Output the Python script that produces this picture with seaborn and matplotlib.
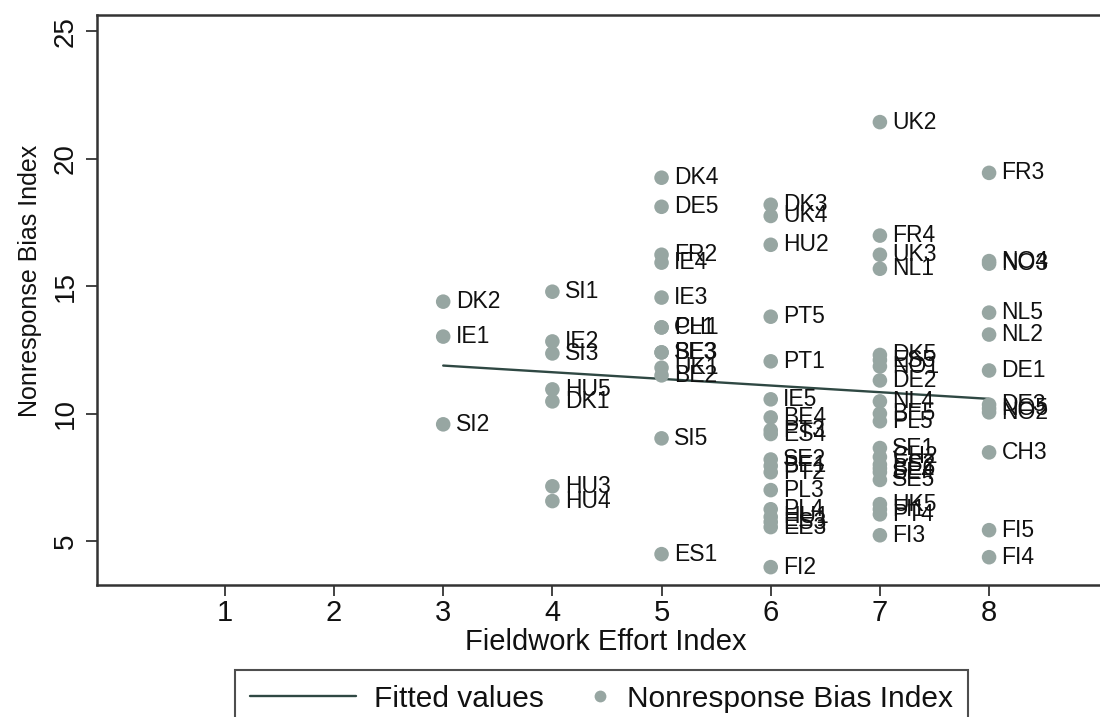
import matplotlib
matplotlib.use("Agg")
import matplotlib.pyplot as plt
from matplotlib.lines import Line2D
from matplotlib.legend_handler import HandlerLine2D
import seaborn as sns
import pandas as pd

# Survey round codes, fieldwork effort index and nonresponse bias index
codes = [
    "DK2", "IE1", "SI2",
    "SI1", "IE2", "SI3", "HU5", "DK1", "HU3", "HU4",
    "DK4", "DE5", "FR2", "IE4", "IE3", "CH1", "PL1", "BE3", "SE3", "UK1", "BE2", "SI5", "ES1",
    "DK3", "UK4", "HU2", "PT5", "PT1", "IE5", "BE4", "PT3", "ES4", "SE2", "BE1", "PT2", "PL3",
    "PL4", "HU1", "ES3", "EE3", "FI2",
    "UK2", "FR4", "UK3", "NL1", "DK5", "ES5", "NO1", "DE2", "NL4", "BE5", "PL5", "SE1", "CH2",
    "ES2", "BE6", "SE4", "SE5", "UK5", "FI1", "PT4", "FI3",
    "FR3", "NO4", "NO3", "NL5", "NL2", "DE1", "DE3", "NO5", "NO2", "CH3", "FI5", "FI4",
]
effort = [
    3, 3, 3,
    4, 4, 4, 4, 4, 4, 4,
    5, 5, 5, 5, 5, 5, 5, 5, 5, 5, 5, 5, 5,
    6, 6, 6, 6, 6, 6, 6, 6, 6, 6, 6, 6, 6,
    6, 6, 6, 6, 6,
    7, 7, 7, 7, 7, 7, 7, 7, 7, 7, 7, 7, 7,
    7, 7, 7, 7, 7, 7, 7, 7,
    8, 8, 8, 8, 8, 8, 8, 8, 8, 8, 8, 8,
]
bias = [
    14.39, 13.02, 9.58,
    14.78, 12.83, 12.36, 10.95, 10.48, 7.15, 6.57,
    19.25, 18.11, 16.23, 15.92, 14.55, 13.38, 13.38, 12.40, 12.40, 11.80, 11.50, 9.03, 4.49,
    18.19, 17.75, 16.62, 13.80, 12.05, 10.56, 9.85, 9.35, 9.20, 8.20, 7.95, 7.70, 7.00,
    6.25, 5.95, 5.75, 5.55, 3.98,
    21.43, 16.98, 16.23, 15.68, 12.30, 12.10, 11.85, 11.30, 10.48, 10.00, 9.70, 8.65, 8.30,
    8.00, 7.85, 7.70, 7.40, 6.45, 6.25, 6.05, 5.23,
    19.44, 15.98, 15.88, 13.96, 13.10, 11.69, 10.35, 10.20, 10.05, 8.48, 5.43, 4.37,
]
x_ticks = [1, 2, 3, 4, 5, 6, 7, 8]
y_ticks = [5, 10, 15, 20, 25]

df = pd.DataFrame({"code": codes, "effort": effort, "bias": bias})

sns.set_theme(style="white")
plt.rcParams["font.family"] = ["Liberation Sans", "DejaVu Sans"]

point_color = "#97a6a2"
line_color = "#2f4843"
text_color = "#111111"

fig = plt.figure(figsize=(11, 7.17), dpi=100)
ax = fig.add_axes([97 / 1100, 1 - 585 / 717, 1 - 97 / 1100, (585 - 15) / 717])

sns.regplot(data=df, x="effort", y="bias", scatter=False, ci=None, ax=ax,
            line_kws={"color": line_color, "linewidth": 1.7, "zorder": 2})
sns.scatterplot(data=df, x="effort", y="bias", ax=ax, s=110, color=point_color,
                edgecolor="none", linewidth=0, zorder=3, legend=False)

for c, xv, yv in zip(df["code"], df["effort"], df["bias"]):
    ax.annotate(c, (xv, yv), xytext=(9, 0), textcoords="offset points",
                ha="left", va="center", fontsize=16.5, color=text_color, zorder=4)

ax.set_xlim(-0.171, 9.016)
ax.set_ylim(3.28, 25.63)
ax.set_xticks(x_ticks)
ax.set_yticks(y_ticks)
ax.set_xticklabels([str(t) for t in x_ticks], fontsize=21)
ax.set_yticklabels([str(t) for t in y_ticks], fontsize=20, rotation=90, va="center")
ax.tick_params(axis="both", direction="out", length=8, width=1.2, color="#222222",
               left=True, bottom=True, labelcolor=text_color)
ax.tick_params(axis="x", pad=2)
ax.tick_params(axis="y", pad=5)
ax.set_xlabel("Fieldwork Effort Index", fontsize=21, color=text_color)
ax.set_ylabel("Nonresponse Bias Index", fontsize=18, color=text_color)
ax.xaxis.set_label_coords((606 - 97) / 1003, -(628 - 585) / 570)
ax.yaxis.set_label_coords(-(97 - 42) / 1003, (585 - 281) / 570)

for side in ["left", "bottom", "top"]:
    ax.spines[side].set_visible(True)
    ax.spines[side].set_color("#333333")
    ax.spines[side].set_linewidth(1.8)
ax.spines["right"].set_visible(False)
ax.grid(False)


class EndMarkerHandler(HandlerLine2D):
    """Place a single legend marker near the right end of its handle box."""

    def get_xdata(self, legend, xdescent, ydescent, width, height, fontsize):
        target = -xdescent + width - 7
        return [target - 1, target + 1], [target]


fit_handle = Line2D([0], [0], color=line_color, linewidth=1.7)
pt_handle = Line2D([0], [0], marker="o", linestyle="none", markersize=8.5,
                   markerfacecolor=point_color, markeredgecolor="none")
leg = fig.legend([fit_handle, pt_handle], ["Fitted values", "Nonresponse Bias Index"],
                 loc="upper left", bbox_to_anchor=(235 / 1100, 1 - 670 / 717),
                 ncol=2, fontsize=21.5, frameon=True, fancybox=False,
                 edgecolor="#222222", handlelength=3.55, handletextpad=0.6,
                 columnspacing=-1.35, borderpad=0.5, borderaxespad=0,
                 handler_map={pt_handle: EndMarkerHandler(numpoints=1)})
leg.get_frame().set_linewidth(1.5)
for t in leg.get_texts():
    t.set_color(text_color)

fig.savefig("out.png", dpi=100, facecolor="white")
